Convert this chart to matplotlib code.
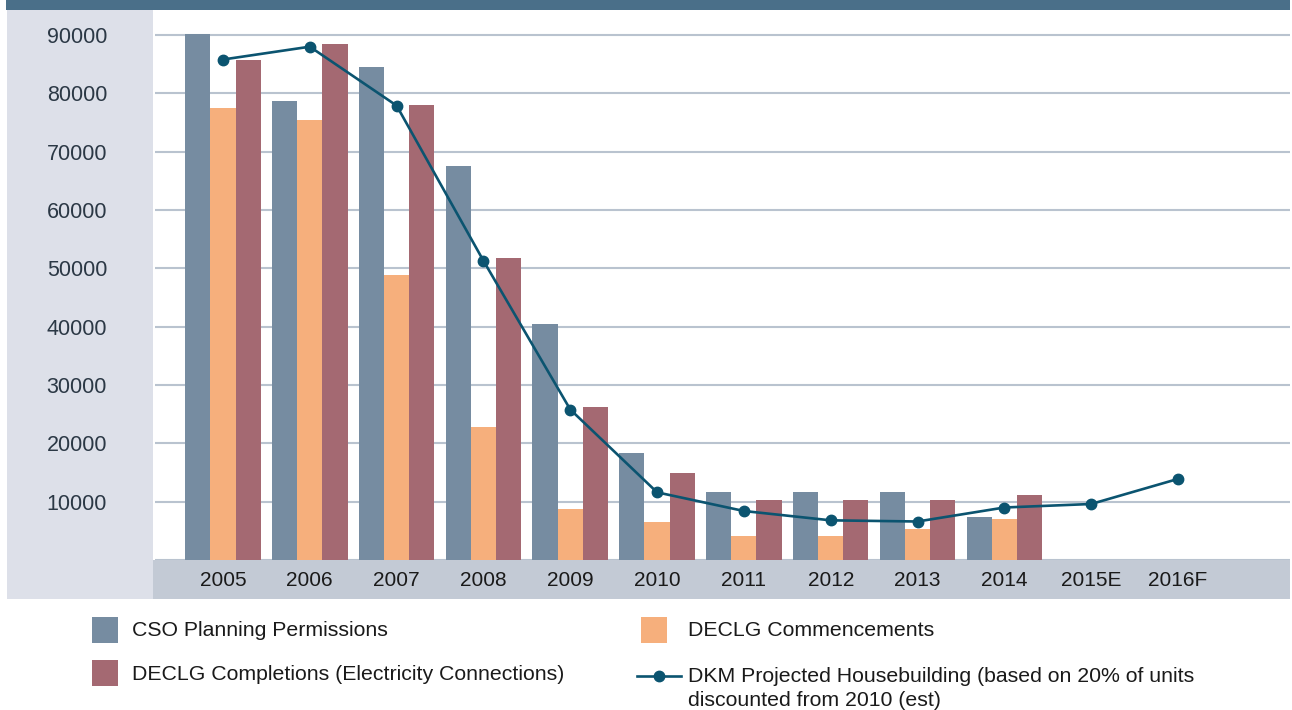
import numpy as np
import matplotlib
matplotlib.use("Agg")
import matplotlib.pyplot as plt
from matplotlib.patches import Rectangle
from matplotlib.lines import Line2D
from matplotlib.ticker import FuncFormatter

plt.rcParams['font.family'] = ['Liberation Sans', 'DejaVu Sans']

years = ['2005', '2006', '2007', '2008', '2009', '2010', '2011', '2012', '2013', '2014', '2015E', '2016F']
cso_permissions = [90200, 78700, 84500, 67500, 40500, 18300, 11600, 11600, 11600, 7300]
declg_commencements = [77500, 75400, 48800, 22800, 8700, 6500, 4100, 4100, 5300, 7000]
declg_completions = [85700, 88500, 78000, 51700, 26200, 14900, 10300, 10300, 10300, 11100]
dkm_projected = [85800, 88000, 77900, 51300, 25800, 11600, 8400, 6800, 6600, 9000, 9600, 13900]

c_cso = '#768ca1'
c_comm = '#f6af7c'
c_comp = '#a46972'
c_dkm = '#0b5470'
c_grid = '#b9c3cf'

W, H = 1292, 710
fig = plt.figure(figsize=(W / 100, H / 100), dpi=100)


def px_rect(x0, y0, x1, y1, color):
    # rectangle given in pixel coords measured from the top left
    fig.add_artist(Rectangle((x0 / W, 1 - y1 / H), (x1 - x0) / W, (y1 - y0) / H,
                             transform=fig.transFigure, color=color, lw=0, zorder=-1))


# frame: header band, y label panel, x label band
px_rect(6, 0, 1290, 10, '#4a6f89')
px_rect(7, 10, 153, 599, '#dde0e9')
px_rect(153, 560, 1290, 599, '#c3cad5')

ax = fig.add_axes([155 / W, 1 - 560 / H, 1135 / W, 550 / H])
ax.patch.set_alpha(0)

x = np.arange(len(years))
n = len(cso_permissions)
bw = 0.29
ax.bar(x[:n] - bw, cso_permissions, bw, color=c_cso, zorder=2)
ax.bar(x[:n], declg_commencements, bw, color=c_comm, zorder=2)
ax.bar(x[:n] + bw, declg_completions, bw, color=c_comp, zorder=2)
ax.plot(x, dkm_projected, color=c_dkm, lw=1.9, marker='o', ms=7.5, zorder=3)

ax.set_xlim(-0.783, 12.29)
ax.set_ylim(0, 94290)
ax.set_yticks(range(0, 90001, 10000))
ax.yaxis.set_major_formatter(FuncFormatter(lambda v, p: '' if v == 0 else '%d' % v))
ax.set_xticks(x)
ax.set_xticklabels(years)
ax.yaxis.grid(True, color=c_grid, lw=1.5)
ax.set_axisbelow(True)
for s in ax.spines.values():
    s.set_visible(False)
ax.tick_params(axis='y', length=0, pad=34.5, labelsize=15.5, labelcolor='#2b3845')
ax.tick_params(axis='x', length=0, pad=8, labelsize=15, labelcolor='#1a1a1a')

# legend
px_rect(92, 617, 118, 643, c_cso)
px_rect(92, 660, 118, 686, c_comp)
px_rect(641, 617, 667, 643, c_comm)
fig.add_artist(Line2D([637 / W, 659 / W, 681 / W], [1 - 676 / H] * 3, transform=fig.transFigure,
                      color=c_dkm, lw=1.9, marker='o', ms=7.5, markevery=[1]))

lg = dict(fontsize=15.3, color='#1a1a1a', va='center')
fig.text(132 / W, 1 - 631 / H, 'CSO Planning Permissions', **lg)
fig.text(132 / W, 1 - 674 / H, 'DECLG Completions (Electricity Connections)', **lg)
fig.text(688 / W, 1 - 631 / H, 'DECLG Commencements', **lg)
fig.text(688 / W, 1 - 676 / H, 'DKM Projected Housebuilding (based on 20% of units', **lg)
fig.text(688 / W, 1 - 700 / H, 'discounted from 2010 (est)', **lg)

fig.savefig('out.png', dpi=100)
